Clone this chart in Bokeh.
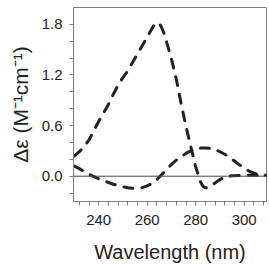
from bokeh.plotting import figure
from bokeh.models import FixedTicker, Span, Range1d
from bokeh.embed import file_html
from bokeh.resources import INLINE

# CD spectra: wavelength (nm) and delta-epsilon (M^-1 cm^-1)
wl_a = [230, 232, 234, 236, 238, 240, 242, 244, 246, 248, 250, 252, 254, 256,
        258, 260, 262, 263, 264, 265, 266, 267, 268, 269, 270, 272, 274, 276,
        278, 280, 282, 283, 284, 285, 286, 288, 290, 292, 295, 300, 305, 310]
de_a = [0.24, 0.29, 0.35, 0.43, 0.54, 0.65, 0.75, 0.85, 0.97, 1.08, 1.17, 1.25,
        1.35, 1.45, 1.55, 1.65, 1.75, 1.80, 1.82, 1.81, 1.76, 1.69, 1.59, 1.49,
        1.39, 1.15, 0.86, 0.59, 0.35, 0.11, -0.07, -0.12, -0.137, -0.135, -0.12,
        -0.08, -0.04, -0.01, 0.005, 0.01, 0.012, 0.012]

wl_b = [230, 232, 234, 236, 238, 240, 242, 244, 246, 248, 250, 252, 254, 256,
        258, 260, 262, 264, 266, 268, 270, 272, 274, 276, 278, 280, 282, 284,
        286, 288, 290, 292, 294, 296, 298, 300, 302, 304, 306, 308, 310]
de_b = [0.12, 0.09, 0.055, 0.025, -0.005, -0.03, -0.05, -0.075, -0.095, -0.11,
        -0.125, -0.137, -0.143, -0.143, -0.135, -0.115, -0.085, -0.04, 0.02, 0.08,
        0.14, 0.19, 0.23, 0.27, 0.30, 0.32, 0.333, 0.335, 0.33, 0.318, 0.29, 0.26,
        0.22, 0.18, 0.135, 0.10, 0.06, 0.035, 0.02, 0.013, 0.012]

x_major = [240, 260, 280, 300]
x_minor = [232, 236, 244, 248, 252, 256, 264, 268, 272, 276, 284, 288, 292, 296, 304, 308]
y_major = [0.0, 0.6, 1.2, 1.8]
y_minor = [-0.2, 0.2, 0.4, 0.8, 1.0, 1.4, 1.6]

FONT = "Liberation Sans"
INK = "#222222"
GRID = "#808080"

p = figure(width=269, height=266, output_backend="svg", toolbar_location=None,
           x_range=Range1d(229.6, 309.2), y_range=Range1d(-0.3, 2.0),
           min_border_left=73, min_border_right=3, min_border_top=7,
           min_border_bottom=65)

p.background_fill_color = "white"
p.border_fill_color = "white"
p.outline_line_color = GRID
p.outline_line_width = 1
p.grid.visible = False

p.add_layout(Span(location=0, dimension="width", line_color="#444444", line_width=1))

p.line(wl_a, de_a, line_color=INK, line_width=3, line_dash="9 9", line_cap="round")
p.line(wl_b, de_b, line_color=INK, line_width=3, line_dash="9 9", line_cap="round")

p.xaxis.ticker = FixedTicker(ticks=x_major, minor_ticks=x_minor)
p.yaxis.ticker = FixedTicker(ticks=y_major, minor_ticks=y_minor)

for ax in (p.xaxis[0], p.yaxis[0]):
    ax.axis_line_color = GRID
    ax.major_tick_line_color = GRID
    ax.minor_tick_line_color = GRID
    ax.major_tick_in = 0
    ax.major_tick_out = 4
    ax.minor_tick_in = 0
    ax.minor_tick_out = 4
    ax.major_label_text_font = FONT
    ax.major_label_text_font_size = "15px"
    ax.major_label_text_color = INK
    ax.axis_label_text_font = FONT
    ax.axis_label_text_font_style = "normal"
    ax.axis_label_text_color = INK

p.xaxis.axis_label_text_font_size = "20px"
p.yaxis.axis_label_text_font_size = "21px"
p.yaxis.major_label_overrides = {0.0: "0.0", 0.6: "0.6", 1.2: "1.2", 1.8: "1.8"}
p.xaxis.axis_label = "Wavelength (nm)"
p.yaxis.axis_label = "Δε (M⁻¹cm⁻¹)"
p.xaxis.major_label_standoff = 9
p.yaxis.major_label_standoff = 7
p.xaxis.axis_label_standoff = 13
p.yaxis.axis_label_standoff = 7

open("out.html", "w").write(file_html(p, INLINE))
